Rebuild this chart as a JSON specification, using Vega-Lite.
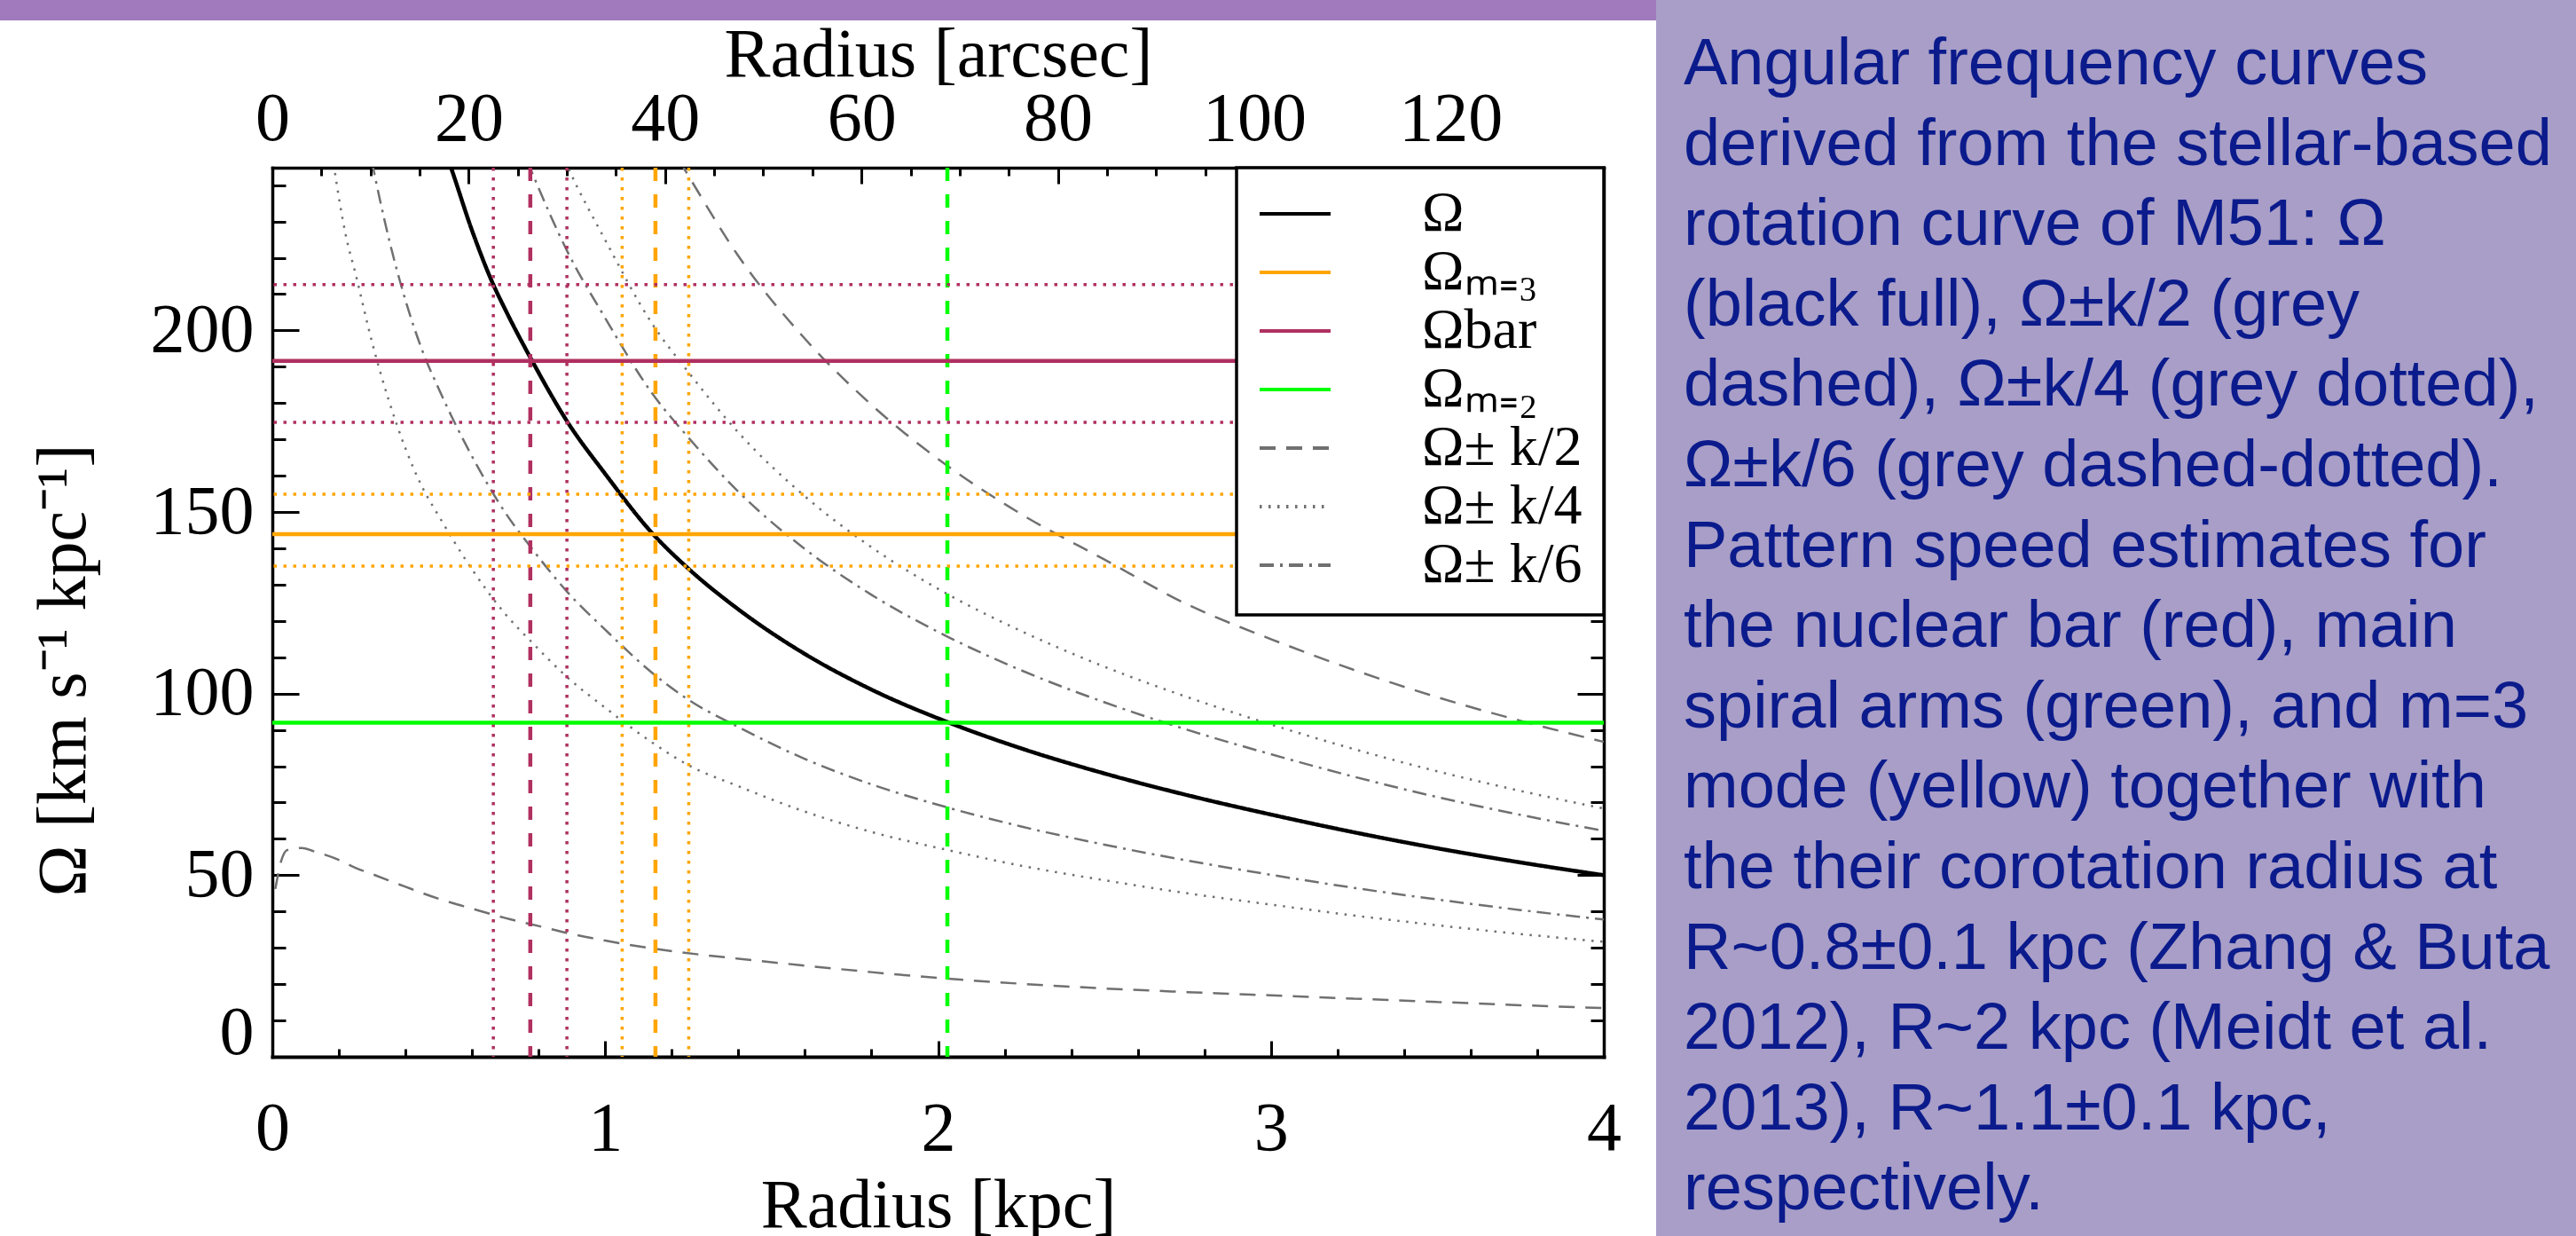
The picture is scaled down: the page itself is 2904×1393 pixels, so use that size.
{
  "$schema": "https://vega.github.io/schema/vega-lite/v6.json",
  "background": "white",
  "padding": 0,
  "datasets": {
    "curves": [
      {"R":1.14,"v":259.7,"series":"Ω± k/2","branch":"+"},{"R":1.25,"v":242.6,"series":"Ω± k/2","branch":"+"},{"R":1.4,"v":220.5,"series":"Ω± k/2","branch":"+"},{"R":1.6,"v":197.7,"series":"Ω± k/2","branch":"+"},{"R":1.8,"v":179.5,"series":"Ω± k/2","branch":"+"},{"R":2.03,"v":162.6,"series":"Ω± k/2","branch":"+"},{"R":2.25,"v":149.4,"series":"Ω± k/2","branch":"+"},{"R":2.5,"v":136.9,"series":"Ω± k/2","branch":"+"},{"R":2.75,"v":124.5,"series":"Ω± k/2","branch":"+"},{"R":3.0,"v":115,"series":"Ω± k/2","branch":"+"},{"R":3.25,"v":106.5,"series":"Ω± k/2","branch":"+"},{"R":3.5,"v":99,"series":"Ω± k/2","branch":"+"},{"R":3.75,"v":92.5,"series":"Ω± k/2","branch":"+"},{"R":4.0,"v":86.7,"series":"Ω± k/2","branch":"+"},
      {"R":0.009,"v":46.2,"series":"Ω± k/2","branch":"-"},{"R":0.027,"v":54,"series":"Ω± k/2","branch":"-"},{"R":0.044,"v":56.9,"series":"Ω± k/2","branch":"-"},{"R":0.089,"v":57.5,"series":"Ω± k/2","branch":"-"},{"R":0.124,"v":56.6,"series":"Ω± k/2","branch":"-"},{"R":0.195,"v":54.4,"series":"Ω± k/2","branch":"-"},{"R":0.25,"v":52,"series":"Ω± k/2","branch":"-"},{"R":0.3,"v":50.3,"series":"Ω± k/2","branch":"-"},{"R":0.4,"v":46.8,"series":"Ω± k/2","branch":"-"},{"R":0.5,"v":43.5,"series":"Ω± k/2","branch":"-"},{"R":0.6,"v":40.8,"series":"Ω± k/2","branch":"-"},{"R":0.7,"v":38.2,"series":"Ω± k/2","branch":"-"},{"R":0.8,"v":36,"series":"Ω± k/2","branch":"-"},{"R":0.9,"v":33.8,"series":"Ω± k/2","branch":"-"},{"R":1.0,"v":32,"series":"Ω± k/2","branch":"-"},{"R":1.15,"v":29.7,"series":"Ω± k/2","branch":"-"},{"R":1.4,"v":27,"series":"Ω± k/2","branch":"-"},{"R":1.6,"v":25.1,"series":"Ω± k/2","branch":"-"},{"R":1.8,"v":23.3,"series":"Ω± k/2","branch":"-"},{"R":2.03,"v":21.5,"series":"Ω± k/2","branch":"-"},{"R":2.25,"v":20.1,"series":"Ω± k/2","branch":"-"},{"R":2.5,"v":18.8,"series":"Ω± k/2","branch":"-"},{"R":2.75,"v":17.8,"series":"Ω± k/2","branch":"-"},{"R":3.0,"v":16.9,"series":"Ω± k/2","branch":"-"},{"R":3.25,"v":16,"series":"Ω± k/2","branch":"-"},{"R":3.5,"v":15.1,"series":"Ω± k/2","branch":"-"},{"R":3.75,"v":14.2,"series":"Ω± k/2","branch":"-"},{"R":4.0,"v":13.4,"series":"Ω± k/2","branch":"-"},
      {"R":0.78,"v":269.3,"series":"Ω± k/4","branch":"+"},{"R":0.886,"v":245.3,"series":"Ω± k/4","branch":"+"},{"R":1.0,"v":224.9,"series":"Ω± k/4","branch":"+"},{"R":1.14,"v":202,"series":"Ω± k/4","branch":"+"},{"R":1.25,"v":188.5,"series":"Ω± k/4","branch":"+"},{"R":1.4,"v":171.9,"series":"Ω± k/4","branch":"+"},{"R":1.6,"v":154.3,"series":"Ω± k/4","branch":"+"},{"R":1.8,"v":140.3,"series":"Ω± k/4","branch":"+"},{"R":2.03,"v":127.3,"series":"Ω± k/4","branch":"+"},{"R":2.25,"v":117.2,"series":"Ω± k/4","branch":"+"},{"R":2.5,"v":107.4,"series":"Ω± k/4","branch":"+"},{"R":2.75,"v":99,"series":"Ω± k/4","branch":"+"},{"R":3.0,"v":91.5,"series":"Ω± k/4","branch":"+"},{"R":3.25,"v":84.7,"series":"Ω± k/4","branch":"+"},{"R":3.5,"v":78.6,"series":"Ω± k/4","branch":"+"},{"R":3.75,"v":73.2,"series":"Ω± k/4","branch":"+"},{"R":4.0,"v":68.35,"series":"Ω± k/4","branch":"+"},
      {"R":0.15,"v":270,"series":"Ω± k/4","branch":"-"},{"R":0.186,"v":244.8,"series":"Ω± k/4","branch":"-"},{"R":0.22,"v":226.5,"series":"Ω± k/4","branch":"-"},{"R":0.25,"v":215.6,"series":"Ω± k/4","branch":"-"},{"R":0.3,"v":196.6,"series":"Ω± k/4","branch":"-"},{"R":0.35,"v":180.7,"series":"Ω± k/4","branch":"-"},{"R":0.4,"v":167.5,"series":"Ω± k/4","branch":"-"},{"R":0.45,"v":156.9,"series":"Ω± k/4","branch":"-"},{"R":0.5,"v":148.9,"series":"Ω± k/4","branch":"-"},{"R":0.6,"v":134.2,"series":"Ω± k/4","branch":"-"},{"R":0.7,"v":121.9,"series":"Ω± k/4","branch":"-"},{"R":0.78,"v":114.1,"series":"Ω± k/4","branch":"-"},{"R":0.886,"v":104.5,"series":"Ω± k/4","branch":"-"},{"R":1.0,"v":96.1,"series":"Ω± k/4","branch":"-"},{"R":1.14,"v":86.6,"series":"Ω± k/4","branch":"-"},{"R":1.25,"v":80.3,"series":"Ω± k/4","branch":"-"},{"R":1.4,"v":74.5,"series":"Ω± k/4","branch":"-"},{"R":1.6,"v":67.5,"series":"Ω± k/4","branch":"-"},{"R":1.8,"v":61.9,"series":"Ω± k/4","branch":"-"},{"R":2.03,"v":56.9,"series":"Ω± k/4","branch":"-"},{"R":2.25,"v":52.6,"series":"Ω± k/4","branch":"-"},{"R":2.5,"v":48.6,"series":"Ω± k/4","branch":"-"},{"R":2.75,"v":45,"series":"Ω± k/4","branch":"-"},{"R":3.0,"v":41.9,"series":"Ω± k/4","branch":"-"},{"R":3.25,"v":38.9,"series":"Ω± k/4","branch":"-"},{"R":3.5,"v":36.2,"series":"Ω± k/4","branch":"-"},{"R":3.75,"v":33.8,"series":"Ω± k/4","branch":"-"},{"R":4.0,"v":31.65,"series":"Ω± k/4","branch":"-"},
      {"R":0.7,"v":261.6,"series":"Ω± k/6","branch":"+"},{"R":0.78,"v":243.5,"series":"Ω± k/6","branch":"+"},{"R":0.886,"v":221.8,"series":"Ω± k/6","branch":"+"},{"R":1.0,"v":203.4,"series":"Ω± k/6","branch":"+"},{"R":1.14,"v":182.8,"series":"Ω± k/6","branch":"+"},{"R":1.25,"v":170.5,"series":"Ω± k/6","branch":"+"},{"R":1.4,"v":155.6,"series":"Ω± k/6","branch":"+"},{"R":1.6,"v":139.8,"series":"Ω± k/6","branch":"+"},{"R":1.8,"v":127.2,"series":"Ω± k/6","branch":"+"},{"R":2.03,"v":115.6,"series":"Ω± k/6","branch":"+"},{"R":2.25,"v":106.4,"series":"Ω± k/6","branch":"+"},{"R":2.5,"v":97.6,"series":"Ω± k/6","branch":"+"},{"R":2.75,"v":90,"series":"Ω± k/6","branch":"+"},{"R":3.0,"v":83.3,"series":"Ω± k/6","branch":"+"},{"R":3.25,"v":77.1,"series":"Ω± k/6","branch":"+"},{"R":3.5,"v":71.5,"series":"Ω± k/6","branch":"+"},{"R":3.75,"v":66.6,"series":"Ω± k/6","branch":"+"},{"R":4.0,"v":62.2,"series":"Ω± k/6","branch":"+"},
      {"R":0.25,"v":270.4,"series":"Ω± k/6","branch":"-"},{"R":0.3,"v":246.1,"series":"Ω± k/6","branch":"-"},{"R":0.35,"v":225.3,"series":"Ω± k/6","branch":"-"},{"R":0.4,"v":208.3,"series":"Ω± k/6","branch":"-"},{"R":0.45,"v":194.6,"series":"Ω± k/6","branch":"-"},{"R":0.5,"v":183.9,"series":"Ω± k/6","branch":"-"},{"R":0.6,"v":165.3,"series":"Ω± k/6","branch":"-"},{"R":0.7,"v":149.8,"series":"Ω± k/6","branch":"-"},{"R":0.78,"v":139.9,"series":"Ω± k/6","branch":"-"},{"R":0.886,"v":128,"series":"Ω± k/6","branch":"-"},{"R":1.0,"v":117.6,"series":"Ω± k/6","branch":"-"},{"R":1.14,"v":105.8,"series":"Ω± k/6","branch":"-"},{"R":1.25,"v":98.3,"series":"Ω± k/6","branch":"-"},{"R":1.4,"v":90.8,"series":"Ω± k/6","branch":"-"},{"R":1.6,"v":82,"series":"Ω± k/6","branch":"-"},{"R":1.8,"v":75,"series":"Ω± k/6","branch":"-"},{"R":2.03,"v":68.6,"series":"Ω± k/6","branch":"-"},{"R":2.25,"v":63.4,"series":"Ω± k/6","branch":"-"},{"R":2.5,"v":58.4,"series":"Ω± k/6","branch":"-"},{"R":2.75,"v":54,"series":"Ω± k/6","branch":"-"},{"R":3.0,"v":50.1,"series":"Ω± k/6","branch":"-"},{"R":3.25,"v":46.5,"series":"Ω± k/6","branch":"-"},{"R":3.5,"v":43.3,"series":"Ω± k/6","branch":"-"},{"R":3.75,"v":40.4,"series":"Ω± k/6","branch":"-"},{"R":4.0,"v":37.8,"series":"Ω± k/6","branch":"-"}
    ],
    "omega": [
      {"R":0.5,"v":254,"series":"Ω"},{"R":0.533,"v":245.8,"series":"Ω"},{"R":0.6,"v":227.5,"series":"Ω"},{"R":0.662,"v":213,"series":"Ω"},{"R":0.7,"v":205.7,"series":"Ω"},{"R":0.78,"v":191.7,"series":"Ω"},{"R":0.886,"v":174.9,"series":"Ω"},{"R":1.0,"v":160.5,"series":"Ω"},{"R":1.14,"v":144.3,"series":"Ω"},{"R":1.25,"v":134.4,"series":"Ω"},{"R":1.4,"v":123.2,"series":"Ω"},{"R":1.6,"v":110.9,"series":"Ω"},{"R":1.8,"v":101.1,"series":"Ω"},{"R":2.03,"v":92.1,"series":"Ω"},{"R":2.25,"v":84.9,"series":"Ω"},{"R":2.5,"v":78,"series":"Ω"},{"R":2.75,"v":72,"series":"Ω"},{"R":3.0,"v":66.7,"series":"Ω"},{"R":3.25,"v":61.8,"series":"Ω"},{"R":3.5,"v":57.4,"series":"Ω"},{"R":3.75,"v":53.5,"series":"Ω"},{"R":4.0,"v":50,"series":"Ω"}
    ],
    "hlines": [
      {"v":191.6,"series":"Ωbar"},{"v":143.9,"series":"Ωₘ₌₃"},{"v":92,"series":"Ωₘ₌₂"}
    ],
    "hbands": [
      {"v":212.6,"pattern":"bar"},{"v":174.7,"pattern":"bar"},{"v":154.9,"pattern":"m=3"},{"v":135.1,"pattern":"m=3"}
    ],
    "corot": [
      {"R":0.775,"pattern":"bar"},{"R":1.151,"pattern":"m=3"},{"R":2.028,"pattern":"m=2"}
    ],
    "corotErr": [
      {"R":0.664,"pattern":"bar"},{"R":0.885,"pattern":"bar"},{"R":1.051,"pattern":"m=3"},{"R":1.251,"pattern":"m=3"}
    ],
    "arcsec": [{"arcsec":0},{"arcsec":135.6}],
    "caption": [
      {"i":0,"line":"Angular frequency curves"},
      {"i":1,"line":"derived from the stellar-based"},
      {"i":2,"line":"rotation curve of M51: Ω"},
      {"i":3,"line":"(black full), Ω±k/2 (grey"},
      {"i":4,"line":"dashed), Ω±k/4 (grey dotted),"},
      {"i":5,"line":"Ω±k/6 (grey dashed-dotted)."},
      {"i":6,"line":"Pattern speed estimates for"},
      {"i":7,"line":"the nuclear bar (red), main"},
      {"i":8,"line":"spiral arms (green), and m=3"},
      {"i":9,"line":"mode (yellow) together with"},
      {"i":10,"line":"the their corotation radius at"},
      {"i":11,"line":"R~0.8±0.1 kpc (Zhang & Buta"},
      {"i":12,"line":"2012), R~2 kpc (Meidt et al."},
      {"i":13,"line":"2013), R~1.1±0.1 kpc,"},
      {"i":14,"line":"respectively."}
    ]
  },
  "config": {
    "view": {"stroke": null},
    "axis": {
      "domainColor": "black", "domainWidth": 3.5, "domainCap": "square",
      "tickColor": "black", "tickWidth": 3,
      "labelColor": "black", "titleColor": "black",
      "labelFont": "Liberation Serif", "titleFont": "Liberation Serif",
      "labelFontSize": 78, "titleFontSize": 78, "titleFontWeight": "normal",
      "grid": false, "labelFlush": false, "labelOverlap": false
    },
    "legend": {
      "orient": "top-right", "offset": 0, "padding": 24,
      "fillColor": "white", "strokeColor": "black", "strokeWidth": 3.5,
      "labelFont": "Liberation Serif", "labelFontSize": 64, "labelColor": "black",
      "symbolType": "stroke", "symbolSize": 6400, "symbolStrokeWidth": 4,
      "clipHeight": 56, "rowPadding": 2, "labelOffset": 101, "labelLimit": 1000
    }
  },
  "resolve": {"scale": {"color": "independent", "strokeDash": "independent", "stroke": "independent"}},
  "bounds": "flush",
  "spacing": 1867,
  "hconcat": [
    {
      "resolve": {"scale": {"color": "independent", "strokeDash": "independent", "stroke": "independent"}},
      "bounds": "flush",
      "spacing": 166,
      "center": true,
      "vconcat": [
        {
          "width": 2115, "height": 23,
          "view": {"fill": "#a07abd", "stroke": null},
          "data": {"values": []},
          "mark": "point"
        },
        {
          "width": 1501, "height": 1002,
          "layer": [
            {
              "layer": [
                {
                  "data": {"name": "curves"},
                  "mark": {"type": "line", "strokeWidth": 2.5, "clip": true, "interpolate": "monotone"},
                  "encoding": {
                    "x": {"field": "R", "type": "quantitative", "scale": {"domain": [0, 4], "nice": false, "zero": false},
                      "axis": {
                        "orient": "bottom", "title": "Radius [kpc]",
                        "values": [0,0.1,0.2,0.3,0.4,0.5,0.6,0.7,0.8,0.9,1,1.1,1.2,1.3,1.4,1.5,1.6,1.7,1.8,1.9,2,2.1,2.2,2.3,2.4,2.5,2.6,2.7,2.8,2.9,3,3.1,3.2,3.3,3.4,3.5,3.6,3.7,3.8,3.9,4],
                        "labelExpr": "datum.value == round(datum.value) ? format(datum.value, 'd') : ''",
                        "tickSize": {"condition": {"test": "datum.value == round(datum.value)", "value": -18}, "value": -9},
                        "labelPadding": 60, "titlePadding": 0, "domainWidth": 4
                      }},
                    "y": {"field": "v", "type": "quantitative", "scale": {"domain": [0, 244.8], "nice": false, "zero": false},
                      "axis": {
                        "orient": "left", "title": "Ω [km s⁻¹ kpc⁻¹]",
                        "values": [6.4,10,20,30,40,50,60,70,80,90,100,110,120,130,140,150,160,170,180,190,200,210,220,230,240],
                        "labelExpr": "datum.value == 6.4 ? '0' : (datum.value % 50 == 0 ? format(datum.value, 'd') : '')",
                        "tickSize": {"condition": [{"test": "datum.value == 6.4", "value": 0}, {"test": "datum.value % 50 == 0", "value": -30}], "value": -15},
                        "labelPadding": {"condition": {"test": "datum.value == 6.4", "value": 21}, "value": 51},
                        "titlePadding": 58, "titleY": 566
                      }},
                    "color": {"field": "series", "type": "nominal",
                      "scale": {"domain": ["Ω","Ωₘ₌₃","Ωbar","Ωₘ₌₂","Ω± k/2","Ω± k/4","Ω± k/6"], "range": ["#000000","#ffa500","#b03060","#00ff00","#707070","#707070","#707070"]},
                      "legend": {"title": null}},
                    "strokeDash": {"field": "series", "type": "nominal",
                      "scale": {"domain": ["Ω","Ωₘ₌₃","Ωbar","Ωₘ₌₂","Ω± k/2","Ω± k/4","Ω± k/6"], "range": [[1,0],[1,0],[1,0],[1,0],[18,12],[2.5,7.5],[16,7,3,7]]},
                      "legend": {"title": null}},
                    "detail": {"field": "branch", "type": "nominal"}
                  }
                },
                {
                  "data": {"name": "omega"},
                  "mark": {"type": "line", "strokeWidth": 4.5, "clip": true, "interpolate": "monotone"},
                  "encoding": {
                    "x": {"field": "R", "type": "quantitative", "scale": {"domain": [0, 4], "nice": false, "zero": false}, "title": "Radius [kpc]"},
                    "y": {"field": "v", "type": "quantitative", "scale": {"domain": [0, 244.8], "nice": false, "zero": false}, "title": "Ω [km s⁻¹ kpc⁻¹]"},
                    "color": {"field": "series", "type": "nominal",
                      "scale": {"domain": ["Ω","Ωₘ₌₃","Ωbar","Ωₘ₌₂","Ω± k/2","Ω± k/4","Ω± k/6"], "range": ["#000000","#ffa500","#b03060","#00ff00","#707070","#707070","#707070"]},
                      "legend": {"title": null}},
                    "strokeDash": {"field": "series", "type": "nominal",
                      "scale": {"domain": ["Ω","Ωₘ₌₃","Ωbar","Ωₘ₌₂","Ω± k/2","Ω± k/4","Ω± k/6"], "range": [[1,0],[1,0],[1,0],[1,0],[18,12],[2.5,7.5],[16,7,3,7]]},
                      "legend": {"title": null}}
                  }
                },
                {
                  "data": {"name": "corotErr"},
                  "mark": {"type": "rule", "strokeWidth": 3.5, "strokeDash": [3.5, 7.5]},
                  "encoding": {
                    "x": {"field": "R", "type": "quantitative", "scale": {"domain": [0, 4], "nice": false, "zero": false}, "title": "Radius [kpc]"},
                    "stroke": {"field": "pattern", "type": "nominal", "scale": {"domain": ["bar","m=3","m=2"], "range": ["#b03060","#ffa500","#00ff00"]}, "legend": null}
                  }
                },
                {
                  "data": {"name": "corot"},
                  "mark": {"type": "rule", "strokeWidth": 4.5, "strokeDash": [15, 15]},
                  "encoding": {
                    "x": {"field": "R", "type": "quantitative", "scale": {"domain": [0, 4], "nice": false, "zero": false}, "title": "Radius [kpc]"},
                    "stroke": {"field": "pattern", "type": "nominal", "scale": {"domain": ["bar","m=3","m=2"], "range": ["#b03060","#ffa500","#00ff00"]}, "legend": null}
                  }
                }
              ]
            },
            {
              "data": {"name": "arcsec"},
              "mark": {"type": "point", "opacity": 0},
              "encoding": {
                "x": {"field": "arcsec", "type": "quantitative", "scale": {"domain": [0, 135.6], "nice": false, "zero": false},
                  "axis": {
                    "orient": "top", "title": "Radius [arcsec]",
                    "values": [0,5,10,15,20,25,30,35,40,45,50,55,60,65,70,75,80,85,90,95,100,105,110,115,120,125,130,135],
                    "labelExpr": "datum.value % 20 == 0 ? format(datum.value, 'd') : ''",
                    "tickSize": {"condition": {"test": "datum.value % 20 == 0", "value": -18}, "value": -9},
                    "labelPadding": 34, "titlePadding": -15
                  }}
              }
            },
            {
              "layer": [
                {
                  "data": {"name": "hbands"},
                  "mark": {"type": "rule", "strokeWidth": 3.5, "strokeDash": [3.5, 7.5]},
                  "encoding": {
                    "y": {"field": "v", "type": "quantitative", "scale": {"domain": [0, 244.8], "nice": false, "zero": false},
                      "axis": {
                        "orient": "right", "title": null, "labels": false,
                        "values": [10,20,30,40,50,60,70,80,90,100,110,120,130,140,150,160,170,180,190,200,210,220,230,240],
                        "tickSize": {"condition": {"test": "datum.value % 50 == 0", "value": -30}, "value": -15}
                      }},
                    "stroke": {"field": "pattern", "type": "nominal", "scale": {"domain": ["bar","m=3","m=2"], "range": ["#b03060","#ffa500","#00ff00"]}, "legend": null}
                  }
                },
                {
                  "data": {"name": "hlines"},
                  "mark": {"type": "rule", "strokeWidth": 4.5},
                  "encoding": {
                    "y": {"field": "v", "type": "quantitative", "scale": {"domain": [0, 244.8], "nice": false, "zero": false}, "title": null},
                    "color": {"field": "series", "type": "nominal",
                      "scale": {"domain": ["Ω","Ωₘ₌₃","Ωbar","Ωₘ₌₂","Ω± k/2","Ω± k/4","Ω± k/6"], "range": ["#000000","#ffa500","#b03060","#00ff00","#707070","#707070","#707070"]},
                      "legend": {"title": null}},
                    "strokeDash": {"field": "series", "type": "nominal",
                      "scale": {"domain": ["Ω","Ωₘ₌₃","Ωbar","Ωₘ₌₂","Ω± k/2","Ω± k/4","Ω± k/6"], "range": [[1,0],[1,0],[1,0],[1,0],[18,12],[2.5,7.5],[16,7,3,7]]},
                      "legend": {"title": null}}
                  }
                }
              ]
            }
          ],
          "resolve": {"scale": {"x": "independent"}, "axis": {"x": "independent", "y": "independent"}}
        }
      ]
    },
    {
      "width": 1037, "height": 1393,
      "view": {"fill": "#a89ec7", "stroke": null},
      "data": {"name": "caption"},
      "mark": {"type": "text", "align": "left", "baseline": "alphabetic", "font": "Liberation Sans", "fontSize": 74, "color": "#0b1b8c", "dx": 31},
      "encoding": {
        "x": {"datum": 0, "type": "quantitative", "scale": {"domain": [0, 1], "nice": false, "zero": false}, "axis": null},
        "y": {"field": "i", "type": "quantitative", "scale": {"domain": [-1.0486, 14.3267], "nice": false, "zero": false, "reverse": true}, "axis": null},
        "text": {"field": "line", "type": "nominal"}
      }
    }
  ]
}
